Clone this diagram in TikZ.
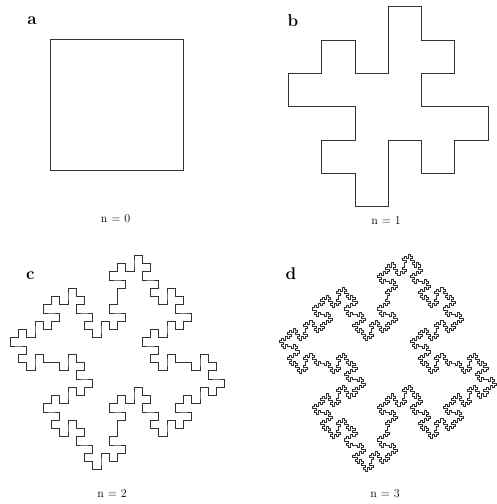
\documentclass[tikz,border=0pt]{standalone}
\usetikzlibrary{lindenmayersystems}
\pgfdeclarelindenmayersystem{KochIsland}{
  \rule{F -> F-F+F+FF-F-F+F}
}
\begin{document}
\begin{tikzpicture}[x=1pt,y=1pt,
  curve/.style={draw=black!80, line width=0.8pt, line join=miter},
  panel/.style={font=\fontsize{17}{17}\selectfont\bfseries, anchor=base},
  caption/.style={font=\fontsize{12}{12}\selectfont, anchor=base}]
\useasboundingbox (0,0) rectangle (497,504);
% panel a: n = 0
\draw[curve] (50,465) rectangle (183,334);
\node[panel] (la) at (32,479) {a};
\node[caption] (ca) at (115.5,281) {n = 0};
% panel b: n = 1
\begin{scope}[shift={(321.6,463.8)}]
\draw[curve, lindenmayer system={KochIsland, axiom=F-F-F-F, order=1, step=33.3pt, angle=90}] lindenmayer system;
\end{scope}
\node[panel] (lb) at (293,477) {b};
\node[caption] (cb) at (386,279) {n = 1};
% panel c: n = 2
\begin{scope}[shift={(51.5,207.5)}]
\draw[curve, line width=0.7pt, lindenmayer system={KochIsland, axiom=F-F-F-F, order=2, step=8.25pt, angle=90}] lindenmayer system;
\end{scope}
\node[panel] (lc) at (30.5,224) {c};
\node[caption] (cc) at (112,6) {n = 2};
% panel d: n = 3
\begin{scope}[shift={(322,206.5)}]
\draw[curve, line width=0.5pt, lindenmayer system={KochIsland, axiom=F-F-F-F, order=3, step=2.047pt, angle=90}] lindenmayer system;
\end{scope}
\node[panel] (ld) at (291,224) {d};
\node[caption] (cd) at (385,6) {n = 3};
\end{tikzpicture}
\end{document}
